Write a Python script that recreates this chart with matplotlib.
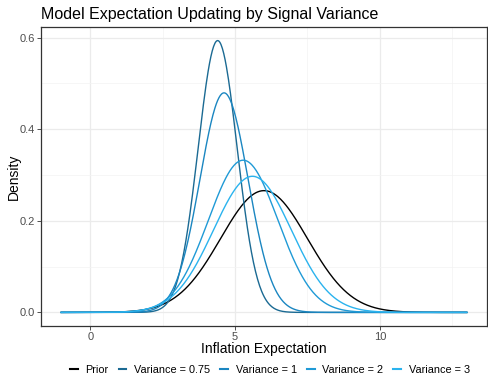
import numpy as np
import matplotlib
matplotlib.use("Agg")
import matplotlib.pyplot as plt
from matplotlib.lines import Line2D

plt.rcParams['font.family'] = ['Liberation Sans', 'DejaVu Sans']

# Distribution parameters (normal densities)
labels = ["Prior", "Variance = 0.75", "Variance = 1", "Variance = 2", "Variance = 3"]
means = [6.0, 4.4, 4.62, 5.28, 5.6]
sds = [1.5, 0.672, 0.832, 1.2, 1.342]
colors = ["#000000", "#1B6A93", "#1A86C1", "#1F9AD6", "#2AB3EE"]
x_min, x_max = -1, 13
xticks = [0, 5, 10]
yticks = [0.0, 0.2, 0.4, 0.6]

W, H = 488, 375
fig = plt.figure(figsize=(W/100, H/100), dpi=100)
ax = fig.add_axes([41/W, 1-326/H, (487-41)/W, (326-27)/H])

x = np.linspace(x_min, x_max, 600)
for lab, m, s, c in zip(labels, means, sds, colors):
    y = np.exp(-0.5*((x-m)/s)**2)/(s*np.sqrt(2*np.pi))
    ax.plot(x, y, color=c, lw=1.0, label=lab, zorder=3)

xr = x_max - x_min
ax.set_xlim(x_min - 0.05*xr, x_max + 0.05*xr)
ymax = 1/(min(sds)*np.sqrt(2*np.pi))
ax.set_ylim(-0.05*ymax, ymax*1.05)

ax.set_xticks(xticks)
ax.set_xticklabels([str(t) for t in xticks])
ax.set_yticks(yticks)
ax.set_yticklabels([f"{t:.1f}" for t in yticks])
ax.set_xticks([2.5, 7.5, 12.5], minor=True)
ax.set_yticks([0.1, 0.3, 0.5], minor=True)
ax.grid(True, which="major", color="#EBEBEB", lw=0.9, zorder=0)
ax.grid(True, which="minor", color="#F3F3F3", lw=0.5, zorder=0)
ax.tick_params(which="minor", length=0)
ax.tick_params(which="major", length=3, color="#333333", labelcolor="#4D4D4D", labelsize=8, width=0.6, pad=1.5)
ax.tick_params(axis="x", which="major", pad=1)
for sp in ax.spines.values():
    sp.set_color("#333333")
    sp.set_linewidth(0.9)

ax.set_xlabel("Inflation Expectation", fontsize=10)
ax.xaxis.set_label_coords(0.5, -(349-326)/(326-27), transform=ax.transAxes)
ax.xaxis.label.set_va("center")
ax.set_ylabel("Density", fontsize=10)
ax.yaxis.set_label_coords(-(41-14)/(487-41), 0.5)
ax.yaxis.label.set_va("center")
fig.text(41/W, 1-14/H, "Model Expectation Updating by Signal Variance", fontsize=11.5, va="center", ha="left")

handles = [Line2D([0], [0], color=c, lw=1.5) for c in colors]
fig.legend(handles, labels, loc="center", bbox_to_anchor=(270/W, 1-370/H), ncol=5, frameon=False,
           fontsize=7.8, handlelength=0.7, handletextpad=0.7, columnspacing=0.95,
           borderpad=0, borderaxespad=0)

fig.savefig("out.png", dpi=100)
